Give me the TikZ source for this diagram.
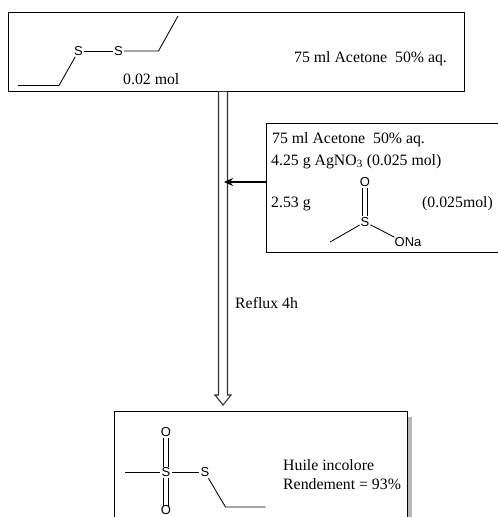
\documentclass[tikz,border=0pt]{standalone}
\usepackage{fontspec}
\setmainfont{Liberation Serif}
\newfontfamily\atomfont{Liberation Sans}
\usetikzlibrary{arrows.meta}
\tikzset{
  box/.style={draw=black,line width=1pt,fill=white,inner sep=0pt},
  txt/.style={anchor=base west,inner sep=0pt,font=\fontsize{15.8}{18}\selectfont},
  atom/.style={inner sep=1pt,font=\atomfont\fontsize{13}{15}\selectfont},
  bond/.style={draw=black,line width=0.85pt},
  shaft/.style={draw=black!80,line width=1.1pt,fill=white,line join=miter},
  feed/.style={draw=black,line width=1.5pt,-{Stealth[length=9pt,width=8pt]}},
  shade/.style={fill=black!28,draw=none}
}
\begin{document}
\begin{tikzpicture}[x=1pt,y=-1pt]
\useasboundingbox (0,0) rectangle (498,517);
\clip (0,0) rectangle (498,517);
% shadow and boxes
\fill[shade] (407,417) rectangle (411.5,517);
\node[box,minimum width=456pt,minimum height=79pt] (top) at (236.5,52) {};
\node[box,minimum width=244pt,minimum height=129pt] (side) at (388,188) {};
\node[box,minimum width=293pt,minimum height=119pt] (prod) at (260.5,470.5) {};
% hollow arrow
\coordinate (sl0) at (218.5,91.5);
\coordinate (sr0) at (227.5,91.5);
\coordinate (sl1) at (218.5,395);
\coordinate (sr1) at (227.5,395);
\coordinate (hl) at (215,395);
\coordinate (hr) at (231,395);
\coordinate (tip) at (223,405);
\draw[shaft] (sl0) -- (sl1) -- (hl) -- (tip) -- (hr) -- (sr1) -- (sr0);
\draw[shaft] (sl0) -- (sr0);
% feed arrow
\coordinate (feedstart) at (266,182);
\coordinate (feedend) at (224,182);
\draw[feed] (feedstart) -- (feedend);
% top molecule
\node[atom] (s1) at (78.5,51) {S};
\node[atom] (s2) at (118.5,51) {S};
\coordinate (a1) at (18,85.5);
\coordinate (a2) at (59,85.5);
\coordinate (a3) at (158.5,51);
\coordinate (a4) at (178,16);
\draw[bond] (a1) -- (a2) -- (s1);
\draw[bond] (s1) -- (s2);
\draw[bond] (s2) -- (a3) -- (a4);
\node[txt] (t1) at (123,84) {0.02 mol};
\node[txt] (t2) at (294,62) {75 ml Acetone~ 50\% aq.};
% side box
\node[txt] (t3) at (272,143) {75 ml Acetone~ 50\% aq.};
\node[txt] (t4) at (271,165) {4.25 g AgNO\textsubscript{3} (0.025 mol)};
\node[txt] (t5) at (271,207) {2.53 g};
\node[txt] (t6) at (422,207) {(0.025mol)};
\node[txt] (t9) at (235,308) {Reflux 4h};
\node[atom] (so) at (365,182) {O};
\node[atom] (ss) at (365,222) {S};
\node[atom,anchor=west,inner sep=0pt] (sona) at (394.5,242) {ONa};
\coordinate (sme) at (330,242);
\draw[bond] (sme) -- (ss);
\draw[bond] (ss) -- (sona.north west);
\draw[bond] ([xshift=-2.6pt]so.south) -- ([xshift=-2.6pt]ss.north);
\draw[bond] ([xshift=2.6pt]so.south) -- ([xshift=2.6pt]ss.north);
% product
\node[atom] (po1) at (166,432.5) {O};
\node[atom] (ps1) at (166,472.5) {S};
\node[atom] (ps2) at (205,472.5) {S};
\node[atom,inner sep=0pt] (po2) at (166,510.5) {O};
\coordinate (pme) at (125,472.5);
\coordinate (pc1) at (225.5,507);
\coordinate (pc2) at (265.5,507);
\draw[bond] (pme) -- (ps1.west);
\draw[bond] (ps1.east) -- (ps2.west);
\draw[bond] (ps2) -- (pc1) -- (pc2);
\foreach \dx in {-2.6,2.6}{
  \draw[bond] ([xshift=\dx pt]po1.south) -- ([xshift=\dx pt]ps1.north);
  \draw[bond] ([xshift=\dx pt]ps1.south) -- ([xshift=\dx pt]po2.north);
}
\node[txt] (t7) at (283,470) {Huile incolore};
\node[txt] (t8) at (283,489) {Rendement = 93\%};
\end{tikzpicture}
\end{document}
